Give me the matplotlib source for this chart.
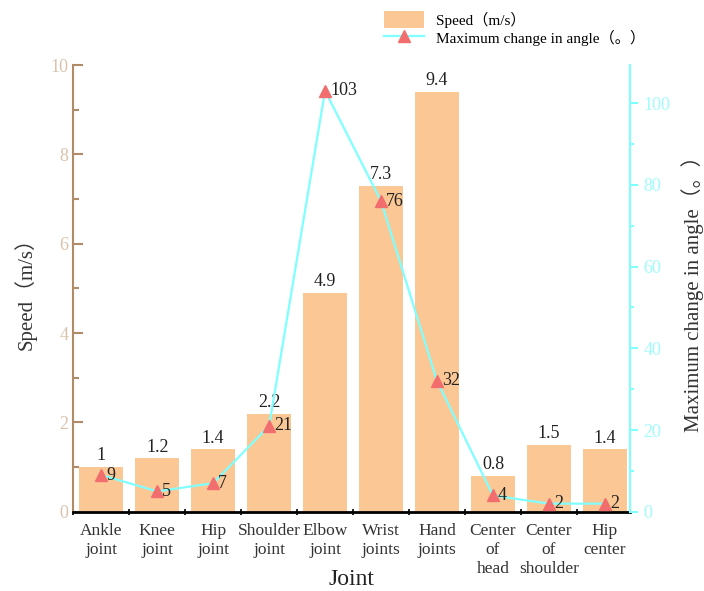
import matplotlib.pyplot as plt
from matplotlib.ticker import MultipleLocator, FixedLocator
from matplotlib.patches import Patch
from matplotlib.lines import Line2D

plt.rcParams['font.family'] = ['Liberation Serif', 'Noto Sans CJK SC']

joints = ['Ankle\njoint', 'Knee\njoint', 'Hip\njoint', 'Shoulder\njoint', 'Elbow\njoint',
          'Wrist\njoints', 'Hand\njoints', 'Center\nof\nhead', 'Center\nof\nshoulder', 'Hip\ncenter']
speed = [1, 1.2, 1.4, 2.2, 4.9, 7.3, 9.4, 0.8, 1.5, 1.4]
angle = [9, 5, 7, 21, 103, 76, 32, 4, 2, 2]
speed_labels = ['1', '1.2', '1.4', '2.2', '4.9', '7.3', '9.4', '0.8', '1.5', '1.4']

bar_color = '#fbc795'
line_color = '#80ffff'
marker_color = '#f26d6d'
left_color = '#b08c66'
left_text = '#d9c3ad'
right_text = '#9ffcfc'

fig = plt.figure(figsize=(7.04, 5.91), dpi=100)
ax1 = fig.add_axes([0.104, 0.134, 0.791, 0.756])
x = list(range(len(joints)))

ax1.bar(x, speed, width=0.79, color=bar_color, zorder=2)
for xi, v, s in zip(x, speed, speed_labels):
    ax1.text(xi, v + 0.06, s, ha='center', va='bottom', fontsize=13, color='#222222')

ax1.set_xlim(-0.5, 9.45)
ax1.set_ylim(0, 10)
ax1.yaxis.set_major_locator(MultipleLocator(2))
ax1.yaxis.set_minor_locator(MultipleLocator(1))
ax1.set_xticks(x)
ax1.set_xticklabels(joints, fontsize=12.5, color='#333333', linespacing=1.25)
ax1.xaxis.set_minor_locator(FixedLocator([i + 0.5 for i in range(-1, 10)]))
ax1.tick_params(axis='x', which='major', direction='in', length=6, width=1.5, pad=8)
ax1.tick_params(axis='x', which='minor', direction='inout', length=5, width=1.2)
ax1.tick_params(axis='y', which='both', direction='in', color=left_color,
                labelcolor=left_text, labelsize=13, width=1.5)
ax1.tick_params(axis='y', which='major', length=7)
ax1.tick_params(axis='y', which='minor', length=4)
ax1.spines['left'].set_color(left_color)
ax1.spines['left'].set_linewidth(1.5)
ax1.spines['bottom'].set_linewidth(2)
ax1.spines['top'].set_visible(False)
ax1.spines['right'].set_visible(False)
ax1.set_ylabel('Speed（m/s）', fontsize=15, color='#333333', labelpad=10)
ax1.set_xlabel('Joint', fontsize=17, color='#222222')
ax1.xaxis.set_label_coords(0.5, -0.128)

ax2 = ax1.twinx()
ax2.plot(x, angle, color=line_color, linewidth=1.6, marker='^', markersize=8,
         markerfacecolor=marker_color, markeredgecolor=marker_color, zorder=3)
for xi, v in zip(x, angle):
    ax2.text(xi + 0.09, v, str(v), ha='left', va='center', fontsize=13, color='#222222')
ax2.set_ylim(0, 109.3)
ax2.yaxis.set_major_locator(MultipleLocator(20))
ax2.yaxis.set_minor_locator(MultipleLocator(10))
ax2.tick_params(axis='y', which='both', direction='out', color=line_color,
                labelcolor=right_text, labelsize=13, width=1.5)
ax2.tick_params(axis='y', which='major', length=6)
ax2.tick_params(axis='y', which='minor', length=3)
ax2.spines['right'].set_color(line_color)
ax2.spines['right'].set_linewidth(1.5)
for side in ['top', 'left', 'bottom']:
    ax2.spines[side].set_visible(False)
ax2.set_ylabel('Maximum change in angle（。）', fontsize=15, color='#333333', labelpad=8)

handles = [Patch(facecolor=bar_color, edgecolor='none'),
           Line2D([0], [0], color=line_color, linewidth=1.6, marker='^', markersize=8,
                  markerfacecolor=marker_color, markeredgecolor=marker_color)]
fig.legend(handles, ['Speed（m/s）', 'Maximum change in angle（。）'],
           loc='upper left', bbox_to_anchor=(0.53, 1.0), frameon=False,
           fontsize=11, handlelength=2.6, handleheight=1.4, labelspacing=0.05,
           borderpad=0.2)

fig.savefig('out.png', dpi=100)
